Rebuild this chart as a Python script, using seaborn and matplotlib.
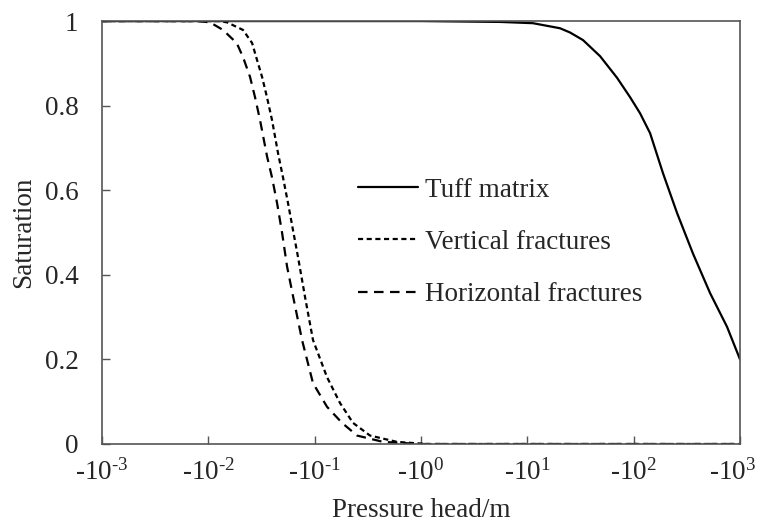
import matplotlib
matplotlib.use("Agg")
import matplotlib.pyplot as plt
import matplotlib.transforms as mtransforms
import seaborn as sns
import pandas as pd

# Suction magnitude |h| (m) and saturation for each material
tuff_head = [0.001, 1.0, 5.53, 11.3, 20.3, 25.2, 33.4, 48.3, 69.7,
             92.5, 114.8, 142.6, 188.8, 255.9, 361.4, 522.4, 755.1, 1000.0]
tuff_sat = [1.0, 1.0, 0.998, 0.995, 0.983, 0.973, 0.955, 0.917, 0.866,
            0.82, 0.782, 0.735, 0.64, 0.546, 0.45, 0.357, 0.277, 0.2]

vert_head = [0.001, 0.0126, 0.0150, 0.0212, 0.0258, 0.0287, 0.0320, 0.0356,
             0.0397, 0.0452, 0.0504, 0.0561, 0.0625, 0.0697, 0.0811, 0.0964,
             0.1306, 0.1730, 0.2291, 0.3311, 0.5943, 1.14, 1000.0]
vert_sat = [1.0, 1.0, 0.997, 0.979, 0.948, 0.908, 0.868, 0.82, 0.766, 0.688,
            0.63, 0.57, 0.506, 0.442, 0.348, 0.246, 0.158, 0.097, 0.05, 0.02,
            0.005, 0.0, 0.0]

horiz_head = [0.001, 0.00794, 0.01038, 0.01374, 0.01849, 0.02118, 0.02466,
              0.02748, 0.03062, 0.03565, 0.03972, 0.04426, 0.04932, 0.05495,
              0.06252, 0.07603, 0.09638, 0.1306, 0.1807, 0.2500, 0.4395,
              0.98, 1000.0]
horiz_sat = [1.0, 1.0, 0.997, 0.979, 0.948, 0.915, 0.868, 0.82, 0.766, 0.68,
             0.63, 0.57, 0.50, 0.42, 0.35, 0.246, 0.144, 0.088, 0.05, 0.02,
             0.005, 0.0, 0.0]

series_names = ["Tuff matrix", "Vertical fractures", "Horizontal fractures"]
x_tick_values = [1e-3, 1e-2, 1e-1, 1e0, 1e1, 1e2, 1e3]
x_tick_labels = [r"$\text{-}10^{\text{-}3}$", r"$\text{-}10^{\text{-}2}$",
                 r"$\text{-}10^{\text{-}1}$", r"$\text{-}10^{0}$",
                 r"$\text{-}10^{1}$", r"$\text{-}10^{2}$",
                 r"$\text{-}10^{3}$"]
y_tick_values = [0, 0.2, 0.4, 0.6, 0.8, 1.0]
y_tick_labels = ["0", "0.2", "0.4", "0.6", "0.8", "1"]

FS = 19.5

sns.set_style("ticks")
plt.rcParams["font.family"] = ["Liberation Serif", "DejaVu Serif"]
plt.rcParams["mathtext.fontset"] = "custom"
plt.rcParams["mathtext.rm"] = "Liberation Serif"
plt.rcParams["mathtext.it"] = "Liberation Serif"
plt.rcParams["mathtext.default"] = "regular"
plt.rcParams["font.size"] = FS

frames = [
    pd.DataFrame({"head": tuff_head, "sat": tuff_sat, "name": series_names[0]}),
    pd.DataFrame({"head": vert_head, "sat": vert_sat, "name": series_names[1]}),
    pd.DataFrame({"head": horiz_head, "sat": horiz_sat, "name": series_names[2]}),
]

styles = {
    series_names[0]: dict(linestyle="-", linewidth=1.6),
    series_names[1]: dict(linestyle=(0, (2.3, 1.6)), linewidth=1.6),
    series_names[2]: dict(linestyle=(0, (4.3, 2.9)), linewidth=1.6),
}

fig = plt.figure(figsize=(7.59, 5.27), dpi=100)
ax = fig.add_axes([0.1344, 0.1575, 0.8406, 0.8025])

for df in frames:
    name = df["name"].iloc[0]
    sns.lineplot(data=df, x="head", y="sat", ax=ax, color="black",
                 label=name, sort=False, estimator=None, **styles[name])

ax.set_xscale("log")
ax.set_xlim(1e-3, 1e3)
ax.set_ylim(0, 1)
ax.set_xticks(x_tick_values)
ax.set_xticklabels(x_tick_labels)
ax.minorticks_off()
ax.set_yticks(y_tick_values)
ax.set_yticklabels(y_tick_labels)

for side in ["top", "right", "bottom", "left"]:
    ax.spines[side].set_visible(True)
    ax.spines[side].set_color("#555555")
    ax.spines[side].set_linewidth(1.2)

ax.tick_params(axis="both", direction="in", length=6, width=1.0,
               color="#555555", labelsize=FS)
ax.tick_params(axis="y", pad=17)
ax.tick_params(axis="x", pad=11)

# keep the last x tick label inside the figure
last = ax.get_xticklabels()[-1]
last.set_transform(last.get_transform() +
                   mtransforms.ScaledTranslation(-7 / 100, 0, fig.dpi_scale_trans))

ax.set_xlabel("Pressure head/m", fontsize=FS, labelpad=9)
ax.set_ylabel("Saturation", fontsize=FS, labelpad=6)

leg = ax.legend(loc="upper left", bbox_to_anchor=(0.363, 0.687), frameon=False,
                fontsize=FS, handlelength=2.2, handletextpad=0.26,
                labelspacing=1.0)

fig.savefig("out.png", dpi=100)
